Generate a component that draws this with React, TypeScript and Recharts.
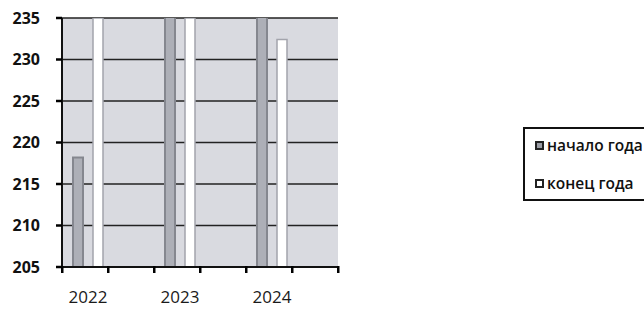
import React from "react";
import { BarChart, Bar, XAxis, YAxis, CartesianGrid, Legend } from "recharts";

const years = ["2022", "2023", "2024"];
const startOfYear = [218.2, 235.6, 235.8];
const endOfYear = [235, 235, 232.4];
const yTicks = [205, 210, 215, 220, 225, 230, 235];
const seriesNames = ["начало года", "конец года"];

const data = years.map((y, i) => ({
  year: y,
  start: startOfYear[i],
  end: endOfYear[i],
  pad1: null,
  pad2: null,
}));

const XTick = (props: any) => {
  const { x, y, payload, index } = props;
  const half = 46;
  const last = index === years.length - 1;
  const ax = Number(y);
  return (
    <g>
      <rect x={x - half - 1} y={ax - 1} width={2.5} height={7} fill="#000" />
      <rect x={x - 1} y={ax - 1} width={2.5} height={7} fill="#000" />
      {last && <rect x={x + half - 1} y={ax - 1} width={2.5} height={7} fill="#000" />}
      <text
        x={x - 20}
        y={ax + 36}
        textAnchor="middle"
        fontFamily="'Open Sans', sans-serif"
        fontSize={17}
        fill="#1a1a1a"
      >
        {payload.value}
      </text>
    </g>
  );
};

const LegendBox = () => (
  <div
    style={{
      width: 130,
      height: 74,
      border: "2px solid #111",
      boxSizing: "border-box",
      background: "#fff",
      fontFamily: "'Open Sans', sans-serif",
      fontWeight: 600,
      fontSize: 15.5,
      color: "#111",
      position: "relative",
    }}
  >
    {seriesNames.map((n, i) => (
      <div
        key={n}
        style={{ position: "absolute", left: 10, top: 5 + i * 38, display: "flex", alignItems: "center", whiteSpace: "nowrap" }}
      >
        <span
          style={{
            display: "inline-block",
            width: 9,
            height: 9,
            border: "2px solid #222",
            background: i === 0 ? "#9a9ca4" : "#fff",
            boxSizing: "border-box",
            marginRight: 3,
          }}
        />
        <span>{n}</span>
      </div>
    ))}
  </div>
);

export default function App() {
  return (
    <div style={{ position: "absolute", left: 0, top: 0, width: 644, height: 309, overflow: "hidden", background: "#fff" }}>
      <BarChart
        width={644}
        height={309}
        data={data}
        margin={{ top: 18, right: 176, bottom: 0, left: 0 }}
        barSize={10}
        barGap={10}
      >
        <CartesianGrid vertical={false} horizontal stroke="#222" strokeWidth={1.5} fill="#d9dae0" />
        <YAxis
          type="number"
          domain={[205, 235]}
          ticks={yTicks}
          allowDataOverflow
          width={62}
          axisLine={{ stroke: "#111", strokeWidth: 2 }}
          tickLine={{ stroke: "#000", strokeWidth: 2.5 }}
          tickSize={6}
          tickMargin={16}
          tick={{ fontFamily: "'Open Sans', sans-serif", fontWeight: 700, fontSize: 16, fill: "#111" }}
        />
        <XAxis
          dataKey="year"
          height={42}
          axisLine={{ stroke: "#111", strokeWidth: 2 }}
          tickLine={false}
          tickSize={0}
          tickMargin={0}
          tick={<XTick />}
          interval={0}
        />
        <Bar dataKey="start" name={seriesNames[0]} fill="#adafb7" stroke="#85878f" strokeWidth={2} isAnimationActive={false} />
        <Bar dataKey="end" name={seriesNames[1]} fill="#ffffff" stroke="#a3a4ac" strokeWidth={1.5} isAnimationActive={false} />
        <Bar dataKey="pad1" legendType="none" isAnimationActive={false} />
        <Bar dataKey="pad2" legendType="none" isAnimationActive={false} />
        <Legend
          layout="vertical"
          align="right"
          verticalAlign="middle"
          content={<LegendBox />}
          wrapperStyle={{ position: "absolute", left: 523, top: 127, width: 130, height: 74 }}
        />
      </BarChart>
    </div>
  );
}
